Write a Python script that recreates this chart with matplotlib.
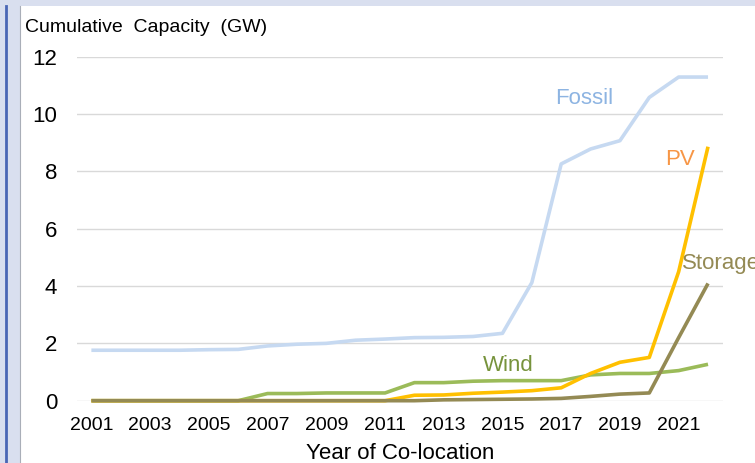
import matplotlib
matplotlib.use("Agg")
import matplotlib.pyplot as plt
from matplotlib.patches import Rectangle
from matplotlib.lines import Line2D

plt.rcParams['font.family'] = ['Liberation Sans', 'DejaVu Sans']

years = list(range(2001, 2023))
fossil = [1.76, 1.76, 1.76, 1.76, 1.78, 1.79, 1.91, 1.97, 2.0, 2.11, 2.15, 2.2,
          2.21, 2.24, 2.35, 4.12, 8.26, 8.78, 9.07, 10.58, 11.29, 11.29]
pv = [0, 0, 0, 0, 0, 0, 0, 0, 0, 0, 0, 0.19,
      0.2, 0.26, 0.3, 0.35, 0.45, 0.95, 1.34, 1.51, 4.5, 8.86]
wind = [0, 0, 0, 0, 0, 0, 0.25, 0.25, 0.27, 0.27, 0.27, 0.63,
        0.63, 0.68, 0.7, 0.7, 0.7, 0.9, 0.95, 0.95, 1.05, 1.27]
storage = [0, 0, 0, 0, 0, 0, 0, 0, 0, 0, 0, 0,
           0.03, 0.04, 0.05, 0.06, 0.08, 0.15, 0.23, 0.27, 2.2, 4.09]
tick_years = years[::2]
y_ticks = [0, 2, 4, 6, 8, 10, 12]

W, H = 755, 463
fig = plt.figure(figsize=(W / 100, H / 100), dpi=100)

# window frame around the chart
fig.patches.append(Rectangle((0, 0), 20 / W, 1, transform=fig.transFigure,
                             facecolor='#D9DFEF', edgecolor='none', zorder=0))
fig.patches.append(Rectangle((0, 1 - 6 / H), 1, 6 / H, transform=fig.transFigure,
                             facecolor='#D9DFEF', edgecolor='none', zorder=0))
fig.lines.append(Line2D([6 / W, 6 / W], [0, 1 - 6 / H], transform=fig.transFigure,
                        color='#4A66B5', lw=2.0))
fig.lines.append(Line2D([20 / W, 20 / W], [0, 1 - 6 / H], transform=fig.transFigure,
                        color='#A9AEB8', lw=0.8))

ax = fig.add_axes([76.7 / W, 1 - 400.7 / H, (722.7 - 76.7) / W, (400.7 - 56.7) / H])
ax.set_xlim(2000.5, 2022.5)
ax.set_ylim(0, 12)
ax.set_yticks(y_ticks)
ax.set_xticks(tick_years)
ax.yaxis.grid(True, color='#D9D9D9', lw=1.0)
ax.set_axisbelow(True)
for s in ax.spines.values():
    s.set_visible(False)
ax.tick_params(axis='both', length=0)
ax.tick_params(axis='y', labelsize=16, pad=14)
ax.tick_params(axis='x', labelsize=14, pad=12)

lw = 2.6
ax.plot(years, fossil, color='#C6D9F1', lw=lw, solid_capstyle='butt', clip_on=False)
ax.plot(years, wind, color='#9BBB59', lw=lw, solid_capstyle='butt', clip_on=False)
ax.plot(years, pv, color='#FFC000', lw=lw, solid_capstyle='butt', clip_on=False)
ax.plot(years, storage, color='#948A54', lw=lw, solid_capstyle='butt', clip_on=False)

ax.text(2016.8, 10.55, 'Fossil', color='#8DB4E2', fontsize=16, ha='left', va='center')
ax.text(2020.55, 8.4, 'PV', color='#F79646', fontsize=16, ha='left', va='center')
ax.text(2014.35, 1.22, 'Wind', color='#77933C', fontsize=16, ha='left', va='center')
ax.text(2021.12, 4.8, 'Storage', color='#948A54', fontsize=16, ha='left', va='center',
        clip_on=False)

ax.set_xlabel('Year of Co-location', fontsize=16, labelpad=6)
fig.text(25 / W, 1 - 27 / H, 'Cumulative  Capacity  (GW)', fontsize=14,
         ha='left', va='center')

fig.savefig('out.png', dpi=100)
